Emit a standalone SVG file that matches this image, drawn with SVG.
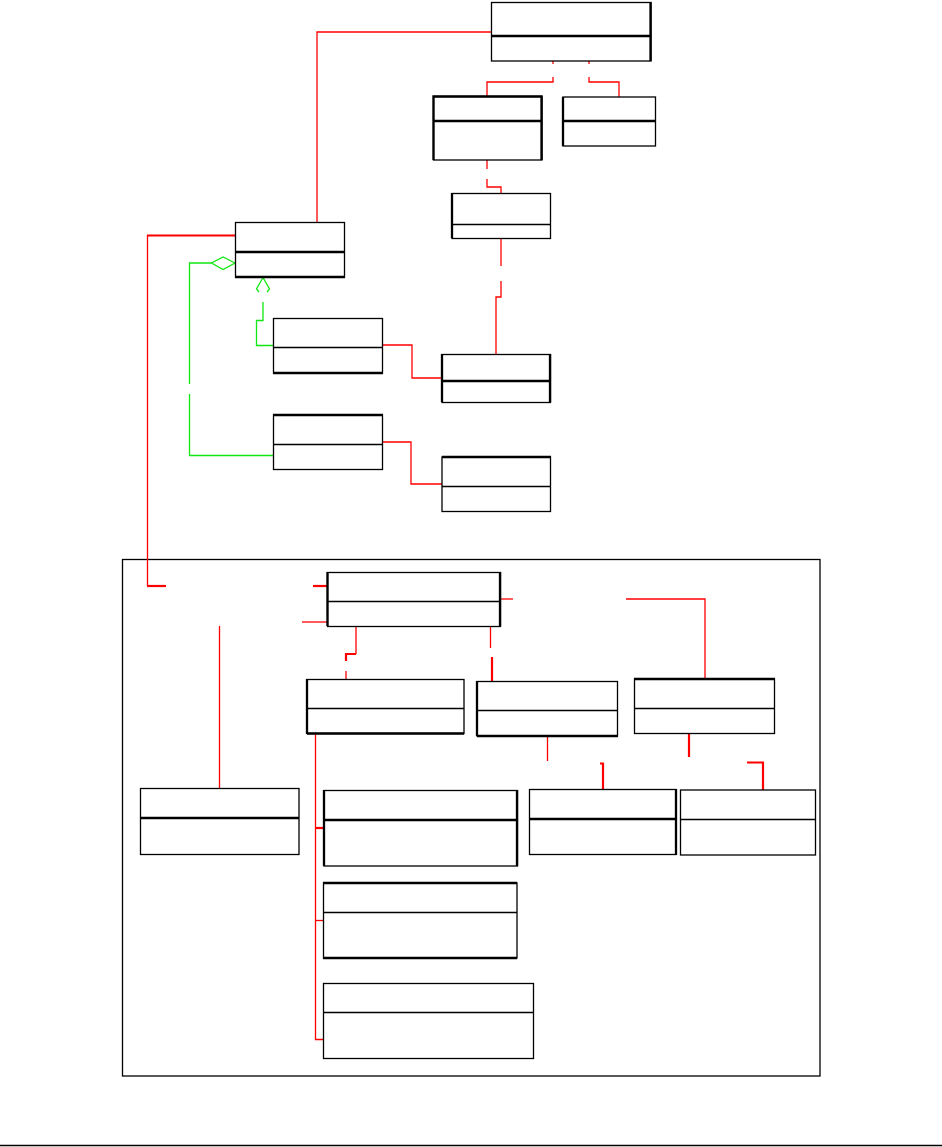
<svg xmlns="http://www.w3.org/2000/svg" width="942" height="1147" viewBox="0 0 942 1147">
<style>
.box{fill:#fff;stroke:#000;stroke-width:1.3}
.dv{stroke:#000;stroke-width:1.3;fill:none}
.tk{stroke:#000;stroke-width:2.3;fill:none}
.r{stroke:#ff0000;stroke-width:1.3;fill:none}
.rt{stroke:#ff0000;stroke-width:2.2;fill:none}
.g{stroke:#11e811;stroke-width:1.3;fill:none}
</style>
<rect width="942" height="1147" fill="#fff"/>
<line x1="0" y1="1145.5" x2="942" y2="1145.5" stroke="#000" stroke-width="1.6"/>
<g id="package">
<rect x="122.5" y="559.5" width="697.5" height="516.5" fill="none" stroke="#000" stroke-width="1.3"/>
</g>
<g id="connectors">
<polyline class="r" points="491,32 317,32 317,222"/>
<polyline class="r" points="553,61 553,64"/>
<polyline class="r" points="553,77 553,82 487,82 487,96"/>
<polyline class="r" points="589,61 589,64"/>
<polyline class="r" points="589,77 589,82 619,82 619,97"/>
<polyline class="r" points="487,160 487,169"/>
<polyline class="r" points="487,179 487,187 501,187 501,193"/>
<polyline class="r" points="501,238 501,266"/>
<polyline class="r" points="501,281 501,297 496,297 496,354"/>
<polyline class="r" points="382,345 412,345 412,378 442,378"/>
<polyline class="r" points="382,442 411,442 411,484 442,484"/>
<polyline class="rt" points="235,235.5 147,235.5"/>
<polyline class="r" points="147.5,235 147.5,586"/>
<polyline class="rt" points="147,586 166,586"/>
<polyline class="rt" points="313,586 327,586"/>
<polyline class="r" points="302,622 327,622"/>
<polyline class="r" points="500,599 513,599"/>
<polyline class="r" points="626,599 705,599 705,679"/>
<polyline class="r" points="219.5,626 219.5,788"/>
<polyline class="r" points="356,626 356,654"/>
<polyline class="rt" points="356,654 346,654 346,661"/>
<polyline class="r" points="346,671 346,679"/>
<polyline class="r" points="490.5,626 490.5,648"/>
<polyline class="rt" points="492,657 492,681"/>
<polyline class="r" points="315.5,734 315.5,1039.5 324,1039.5"/>
<polyline class="rt" points="315,828 324,828"/>
<polyline class="r" points="315,920.5 324,920.5"/>
<polyline class="r" points="547.5,736 547.5,761"/>
<polyline class="rt" points="600,763.5 603,763.5 603,789"/>
<polyline class="rt" points="689,733 689,757"/>
<polyline class="rt" points="747,762.5 763,762.5 763,790"/>
<polygon class="g" points="235,263 223,257 211.5,263 223,269.5" fill="#fff"/>
<polyline class="g" points="211.5,263 189.5,263 189.5,384"/>
<polyline class="g" points="189.5,394 189.5,455.5 273,455.5"/>
<polyline class="g" points="259,292 256.5,289 263,277.5 269.5,289 267,292"/>
<polyline class="g" points="263,302 263,320.5 256.5,320.5 256.5,345.5 273,345.5"/>
</g>
<g id="nodeA"><rect class="box" x="491.5" y="2.5" width="159.5" height="58.5"/><line class="tk" x1="491" y1="36" x2="651" y2="36"/><line class="tk" x1="650.5" y1="2" x2="650.5" y2="61"/></g>
<g id="nodeC"><rect class="box" x="433.5" y="96.5" width="108.5" height="63.5"/><line class="tk" x1="433" y1="121" x2="542" y2="121"/><polyline class="tk" points="433.5,160 433.5,96.5 541.5,96.5 541.5,160"/></g>
<g id="nodeD"><rect class="box" x="563" y="97" width="92.5" height="49"/><line class="tk" x1="563" y1="121" x2="656" y2="121"/><line class="tk" x1="563" y1="97" x2="563" y2="146"/></g>
<g id="nodeE"><rect class="box" x="452" y="193.5" width="98.5" height="45"/><line class="dv" x1="452" y1="224.5" x2="550" y2="224.5"/><line class="tk" x1="452" y1="193" x2="452" y2="238"/></g>
<g id="nodeB"><rect class="box" x="235.5" y="222.5" width="109" height="54.5"/><line class="tk" x1="235" y1="252" x2="344" y2="252"/><line class="tk" x1="235" y1="277" x2="345" y2="277"/></g>
<g id="nodeF"><rect class="box" x="273.5" y="318.5" width="109" height="54.5"/><line class="dv" x1="273" y1="347.5" x2="382" y2="347.5"/><line class="tk" x1="273" y1="373" x2="383" y2="373"/></g>
<g id="nodeH"><rect class="box" x="442" y="354.5" width="108.5" height="48"/><line class="tk" x1="442" y1="381" x2="550" y2="381"/><line class="tk" x1="442" y1="354" x2="442" y2="402"/><line class="tk" x1="550" y1="354" x2="550" y2="402"/></g>
<g id="nodeG"><rect class="box" x="273.5" y="415" width="109" height="54.5"/><line class="dv" x1="273" y1="444.5" x2="382" y2="444.5"/><line class="tk" x1="273" y1="415" x2="383" y2="415"/></g>
<g id="nodeI"><rect class="box" x="442" y="457" width="108.5" height="54.5"/><line class="dv" x1="442" y1="486.5" x2="550" y2="486.5"/><line class="tk" x1="442" y1="457" x2="551" y2="457"/></g>
<g id="nodeJ"><rect class="box" x="327.5" y="572.5" width="173" height="54"/><line class="dv" x1="327" y1="601.5" x2="500" y2="601.5"/><line class="tk" x1="327.5" y1="572" x2="327.5" y2="626"/><line class="tk" x1="500" y1="572" x2="500" y2="626"/></g>
<g id="nodeL"><rect class="box" x="307" y="679.5" width="157" height="54"/><line class="dv" x1="307" y1="708.5" x2="464" y2="708.5"/><line class="tk" x1="307" y1="679" x2="307" y2="734"/><line class="tk" x1="307" y1="733.5" x2="464" y2="733.5"/></g>
<g id="nodeM"><rect class="box" x="477" y="681.5" width="140.5" height="54.5"/><line class="dv" x1="477" y1="710.5" x2="617" y2="710.5"/><line class="tk" x1="477" y1="681" x2="477" y2="736"/><line class="tk" x1="477" y1="736" x2="618" y2="736"/></g>
<g id="nodeN"><rect class="box" x="634.5" y="679" width="140" height="54.5"/><line class="dv" x1="634" y1="708.5" x2="774" y2="708.5"/><line class="tk" x1="634" y1="679" x2="775" y2="679"/></g>
<g id="nodeK"><rect class="box" x="140.5" y="788.5" width="158.5" height="66"/><line class="tk" x1="140" y1="818" x2="299" y2="818"/></g>
<g id="nodeQ"><rect class="box" x="324" y="790.5" width="193.5" height="75.5"/><line class="tk" x1="324" y1="820" x2="517" y2="820"/><line class="tk" x1="324" y1="790" x2="324" y2="866"/><line class="tk" x1="517" y1="790" x2="517" y2="866"/></g>
<g id="nodeO"><rect class="box" x="529.5" y="789.5" width="146.5" height="65"/><line class="tk" x1="529" y1="819" x2="676" y2="819"/><line class="tk" x1="676" y1="789" x2="676" y2="855"/></g>
<g id="nodeP"><rect class="box" x="680.5" y="790" width="135" height="65" stroke-width="2.3"/><line class="dv" x1="680" y1="819.5" x2="815" y2="819.5"/></g>
<g id="nodeR"><rect class="box" x="323.5" y="883" width="193.5" height="75"/><line class="dv" x1="323" y1="912.5" x2="517" y2="912.5"/><line class="tk" x1="323" y1="883" x2="517" y2="883"/><line class="tk" x1="323" y1="958" x2="517" y2="958"/></g>
<g id="nodeS"><rect class="box" x="323.5" y="983.5" width="210" height="75"/><line class="dv" x1="323" y1="1012.5" x2="533" y2="1012.5"/></g>
</svg>
